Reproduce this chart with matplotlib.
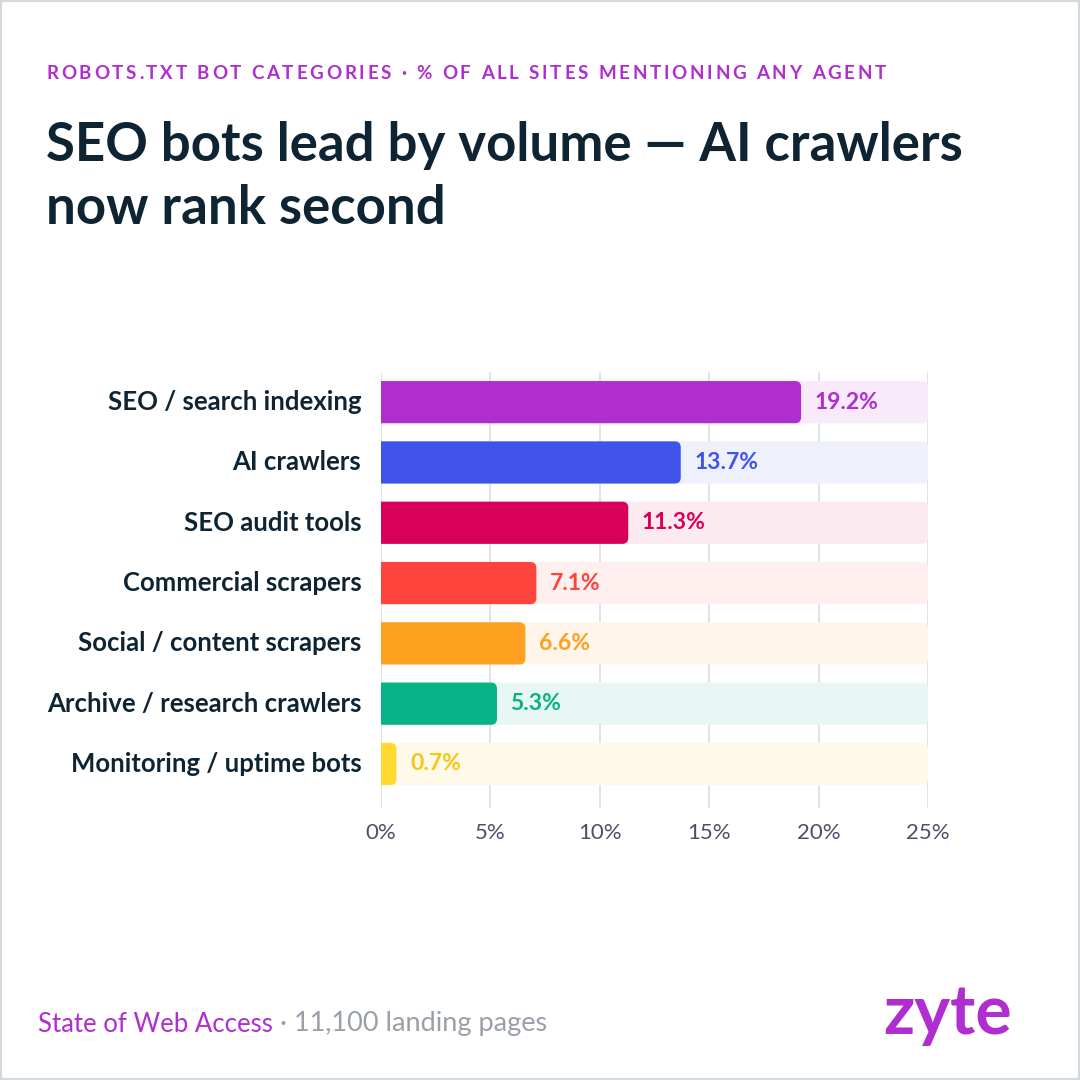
import matplotlib
matplotlib.use("Agg")
import matplotlib.pyplot as plt
from matplotlib.patches import FancyBboxPatch, Rectangle

# data
categories = ["SEO / search indexing", "AI crawlers", "SEO audit tools",
              "Commercial scrapers", "Social / content scrapers",
              "Archive / research crawlers", "Monitoring / uptime bots"]
values = [19.2, 13.7, 11.3, 7.1, 6.6, 5.3, 0.7]
bar_colors = ["#B02ECF", "#4052EA", "#D9005A", "#FC443C", "#FEA020", "#06B386", "#FFD92F"]
track_colors = ["#F9EAFB", "#EEF0FC", "#FCEAF1", "#FFEFEE", "#FFF5EA", "#E8F7F3", "#FFF9EA"]
label_colors = ["#B02ECF", "#4052EA", "#D9005A", "#FC443C", "#FEA020", "#06B386", "#F5C518"]
xticks = [0, 5, 10, 15, 20, 25]

FONT = ["Lato", "DejaVu Sans"]
plt.rcParams["font.family"] = FONT
NAVY = "#0F2433"
PURPLE = "#B02ECF"

fig = plt.figure(figsize=(10.8, 10.8), dpi=100)
fig.patch.set_facecolor("white")

ax = fig.add_axes([381 / 1080, 1 - 808 / 1080, 547 / 1080, 436 / 1080])
ax.set_xlim(0, 25)
ax.set_ylim(6.73, -0.5)

# px -> data conversions for rounded corners
x_per_px = 25 / 547
y_per_px = 1 / 60.3
r = 6 * x_per_px
aspect = y_per_px / x_per_px
h = 0.7

for x in xticks:
    ax.axvline(x, color="#DCDDE3", lw=1.2, zorder=0)

for i, (v, c, tc, lc) in enumerate(zip(values, bar_colors, track_colors, label_colors)):
    # background track, rounded at the 25% end
    ax.add_patch(FancyBboxPatch((-1, i - h / 2), 26, h,
                                boxstyle=f"round,pad=0,rounding_size={r}",
                                mutation_aspect=aspect, fc=tc, ec="none", zorder=1))
    # value bar (left end hidden behind the axis clip)
    ax.add_patch(FancyBboxPatch((-1, i - h / 2), v + 1, h,
                                boxstyle=f"round,pad=0,rounding_size={r}",
                                mutation_aspect=aspect, fc=c, ec="none", zorder=2))
    ax.text(v + 0.62, i, f"{v}%", color=lc, fontsize=16.5, fontweight="bold",
            va="center", ha="left", zorder=3)
    ax.text(-0.9, i, categories[i], color=NAVY, fontsize=18.5, fontweight="bold",
            va="center", ha="right", clip_on=False)

ax.set_xticks(xticks)
ax.set_xticklabels([f"{x}%" for x in xticks], fontsize=16, color="#4A5068")
ax.tick_params(axis="x", length=0, pad=11)
ax.set_yticks([])
for s in ax.spines.values():
    s.set_visible(False)

fig.canvas.draw()
renderer = fig.canvas.get_renderer()

# header kicker with letter spacing, drawn char by char
kicker = "ROBOTS.TXT BOT CATEGORIES · % OF ALL SITES MENTIONING ANY AGENT"
x_px = 46
tracking = 2.75
for ch in kicker:
    t = fig.text(x_px / 1080, 1 - 73 / 1080, ch, color=PURPLE, fontsize=13.5,
                 fontweight="bold", va="center", ha="left")
    if ch == " ":
        w = 13.5 * 0.25 * 100 / 72
    else:
        w = t.get_window_extent(renderer).width
    x_px += w + tracking

fig.text(46 / 1080, 1 - 145 / 1080, "SEO bots lead by volume — AI crawlers",
         color=NAVY, fontsize=38, fontweight="bold", va="center", ha="left")
fig.text(46 / 1080, 1 - 208 / 1080, "now rank second",
         color=NAVY, fontsize=38, fontweight="bold", va="center", ha="left")

# footer
t1 = fig.text(38 / 1080, 1 - 1024 / 1080, "State of Web Access", color=PURPLE,
              fontsize=18.5, va="center", ha="left")
bb = t1.get_window_extent(renderer)
fig.text(bb.x1 / 1080, 1 - 1024 / 1080, " · 11,100 landing pages", color="#9AA0A8",
         fontsize=19.5, va="center", ha="left")
fig.text(1012 / 1080, 1 - 1015 / 1080, "zyte", color=PURPLE, fontsize=49,
         fontweight="bold", va="center", ha="right")

fig.add_artist(Rectangle((0, 0), 1, 1, transform=fig.transFigure, fill=False,
                         ec="#D5D9DD", lw=3))

fig.savefig("out.png", dpi=100, facecolor="white")
